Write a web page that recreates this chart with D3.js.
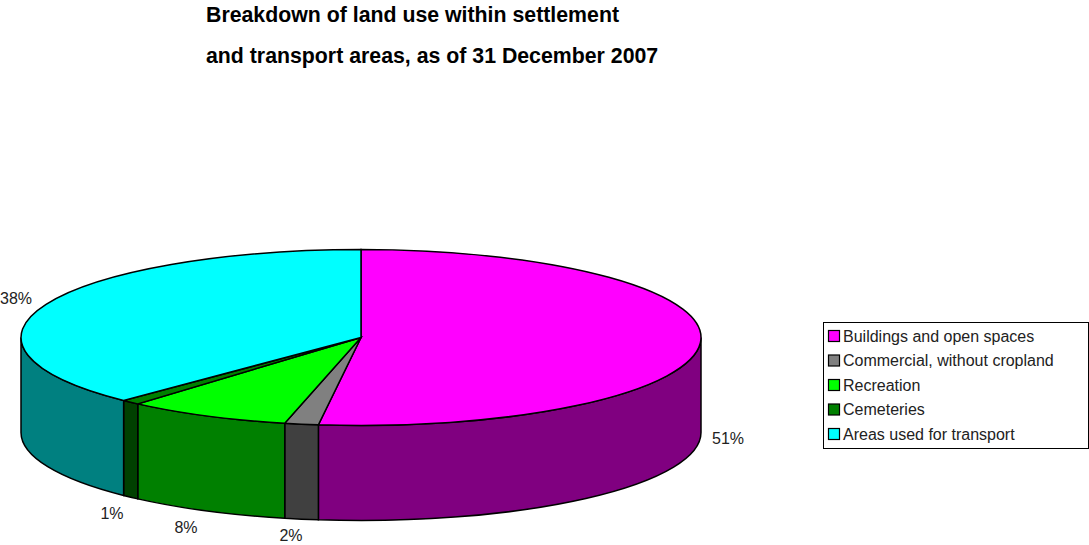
<!DOCTYPE html>
<html><head><meta charset="utf-8">
<script src="https://cdn.jsdelivr.net/npm/d3@7"></script>
<style>html,body{margin:0;padding:0;background:#fff}svg{display:block}text{font-family:"Liberation Sans",Arial,sans-serif}</style>
</head><body><svg id="c" width="1089" height="545"></svg>
<script>
const categories=["Buildings and open spaces","Commercial, without cropland","Recreation","Cemeteries","Areas used for transport"];
const values=[52.0,1.6,7.8,0.9,37.7];
const labels=["51%","2%","8%","1%","38%"];
const topColors=["#ff00ff","#808080","#00ff00","#008000","#00ffff"];
const sideColors=["#800080","#404040","#008000","#004000","#008080"];
const titleLines=["Breakdown of land use within settlement","and transport areas, as of 31 December 2007"];
const svg=d3.select("#c");
const cx=361,cy=337.5,rx=340,ry=88,depth=95;
const stroke="#000",sw=1.5;
titleLines.forEach((t,i)=>svg.append("text").attr("x",206).attr("y",22+i*41).attr("font-size",21.3).attr("font-weight","bold").text(t));
const pie=d3.pie().sort(null).value(d=>d)(values);
const X=a=>cx+rx*Math.sin(a), Y=a=>cy-ry*Math.cos(a);
const sideArc=(a0,a1)=>{
 const s=Math.max(a0,Math.PI/2), e=Math.min(a1,Math.PI*1.5);
 if(e<=s) return null;
 return `M${X(s)},${Y(s)}A${rx},${ry} 0 0 1 ${X(e)},${Y(e)}L${X(e)},${Y(e)+depth}A${rx},${ry} 0 0 0 ${X(s)},${Y(s)+depth}Z`;
};
pie.forEach((d,i)=>{const p=sideArc(d.startAngle,d.endAngle);
 if(p) svg.append("path").attr("d",p).attr("fill",sideColors[i]).attr("stroke",stroke).attr("stroke-width",sw);});
pie.forEach((d,i)=>{
 const large=d.endAngle-d.startAngle>Math.PI?1:0;
 svg.append("path").attr("d",`M${cx},${cy}L${X(d.startAngle)},${Y(d.startAngle)}A${rx},${ry} 0 ${large} 1 ${X(d.endAngle)},${Y(d.endAngle)}Z`)
 .attr("fill",topColors[i]).attr("stroke",stroke).attr("stroke-width",sw);});
const labelPos=[[728,438],[291,535],[186,527],[112,513],[16,298]];
labels.forEach((t,i)=>svg.append("text").attr("x",labelPos[i][0]).attr("y",labelPos[i][1]+5.5).attr("text-anchor","middle").attr("font-size",16).attr("fill","#222").text(t));
const lg=svg.append("g");
lg.append("rect").attr("x",823.5).attr("y",322.5).attr("width",265).attr("height",126).attr("fill","#fff").attr("stroke","#000");
const ly=d3.scalePoint().domain(categories).range([336,434]);
categories.forEach((c,i)=>{
 lg.append("rect").attr("x",828.5).attr("y",ly(c)-5.5).attr("width",11).attr("height",11).attr("fill",topColors[i]).attr("stroke","#000").attr("stroke-width",1.2);
 lg.append("text").attr("x",843).attr("y",ly(c)+5.5).attr("font-size",16).attr("fill","#222").text(c);
});
</script></body></html>
